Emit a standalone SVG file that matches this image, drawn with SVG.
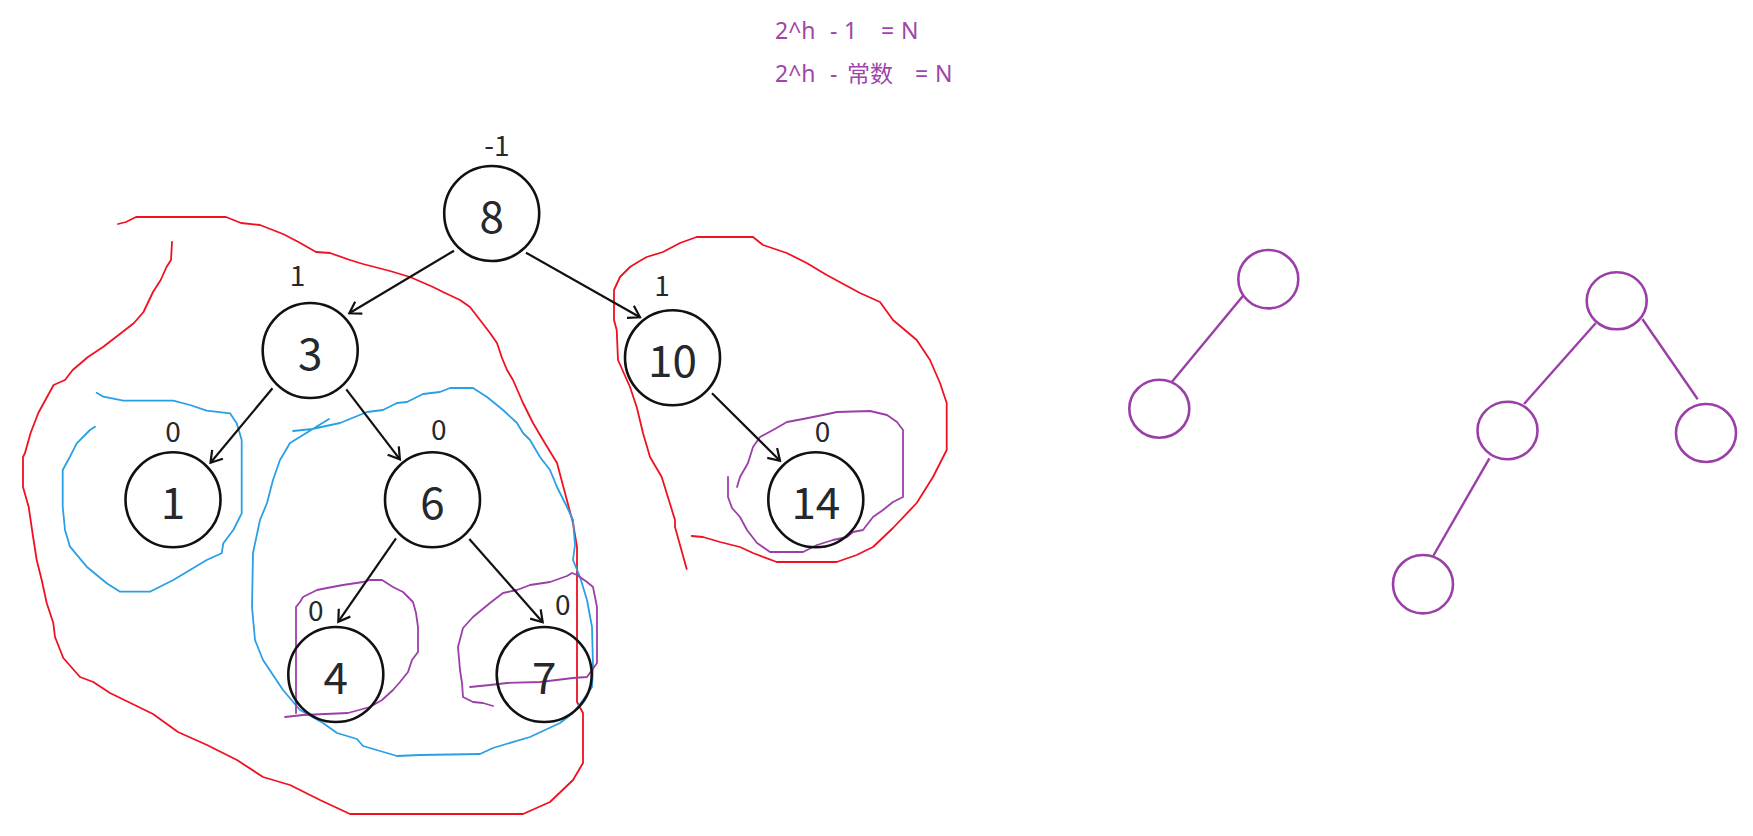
<svg xmlns="http://www.w3.org/2000/svg" width="1753" height="836" viewBox="0 0 1753 836">
<style>
.node circle{fill:none;stroke:#111;stroke-width:2.6}
.val{font-family:"Noto Sans CJK SC","Noto Sans",sans-serif;font-size:44px;fill:#25282c;text-anchor:middle}
.bf{font-family:"Noto Sans CJK SC","Noto Sans",sans-serif;font-size:28px;fill:#25282c;text-anchor:middle}
.edge{stroke:#111;stroke-width:2.2;fill:none}
.red{fill:none;stroke:#f01020;stroke-width:1.8;stroke-linejoin:round;stroke-linecap:round}
.blue{fill:none;stroke:#2a9fe6;stroke-width:1.8;stroke-linejoin:round;stroke-linecap:round}
.pur{fill:none;stroke:#9b3fa8;stroke-width:1.8;stroke-linejoin:round;stroke-linecap:round}
.pn{fill:none;stroke:#9b3fa8;stroke-width:2.6}
.pe{stroke:#9b3fa8;stroke-width:2.4}
.formula{font-family:"Noto Sans","Noto Sans CJK SC",sans-serif;font-size:23px;fill:#a045ab}
</style>
<defs>
<marker id="arr" markerUnits="userSpaceOnUse" viewBox="-14 -8 16 16" markerWidth="16" markerHeight="16" refX="0" refY="0" orient="auto">
<path d="M-11,-7 L0,0 L-11,7" fill="none" stroke="#111" stroke-width="2.2"/>
</marker>
</defs>
<rect width="1753" height="836" fill="#fff"/>

<g id="formula">
<text class="formula" y="39.3"><tspan x="775">2^h</tspan><tspan x="830">-</tspan><tspan x="844">1</tspan><tspan x="881">=</tspan><tspan x="901">N</tspan></text>
<text class="formula" y="81.7"><tspan x="775">2^h</tspan><tspan x="830">-</tspan><tspan x="847">常数</tspan><tspan x="915">=</tspan><tspan x="935">N</tspan></text>
</g>

<g id="annotations">
<path class="red" d="M172,242 L171,260 L166.5,267 L160.7,280 L153,292 L143.5,312 L134,323 L118.6,335 L103,347 L88,357 L72.7,370 L65,380 L53.6,385 L38.3,413 L30.6,433 L25,453 L23,457 L23,487 L28.7,507 L32.5,533 L36.7,560 L41.7,580 L46.7,603 L53.3,623 L55,637 L63.3,658 L80,677 L93.3,682 L110,693 L153,714 L178,732 L207,745 L237,760 L263,777 L290,785 L320,800 L350,814 L523,814 L550,802 L573,780 L583,763 L583,713 L577,702 L577,560 L577,547 L573,523 L565,493 L557,463 L543,440 L533,423 L523,403 L513,380 L507,370 L502,358 L497,343 L490,333 L480,320 L470,307 L460,300 L443,292 L433,287 L410,277 L390,271 L363,264 L350,260 L330,253 L316,252 L298.5,242 L283,234 L260,225 L241,223 L226,217 L136,217 L126,222 L118,224"/>
<path class="red" d="M686.7,569 L675,527 L675,520 L661.7,477 L650,457 L643,433 L636.7,407 L630,387 L618,360 L616.7,330 L614,320 L614,290 L620,277 L630,267 L638,262 L646.7,257 L663,252 L680,243 L696.7,237 L753,237 L763,245 L786.7,253 L806.7,263 L826.7,275 L860,293 L880,302 L893,320 L916.7,340 L930,360 L940,383 L946.7,403 L946.7,450 L933,477 L916.7,503 L893,528 L873,547 L856.7,555 L836.7,562 L776.7,562 L753,553 L740,547 L720,542 L703,537 L691.7,536"/>
<path class="blue" d="M96.7,392.7 L103.3,396.7 L123.3,400.7 L173.3,400.7 L190,405 L206.7,410.7 L230,413.3 L236.7,423.3 L241.7,440 L241.7,513.3 L233.3,530 L223.3,543.3 L221.7,553.3 L206.7,560 L190,570 L173.3,580 L150,591.7 L120,591.7 L106.7,583.3 L86.7,566.7 L70,546.7 L65,530 L62.7,506.7 L62.7,470 L70,456.7 L76.7,443.3 L90,430 L95,426.7"/>
<path class="blue" d="M293,431 L312,429 L340,423 L367,412 L383,410 L397,403 L407,402 L423,394 L440,392 L450,388 L473,388 L487,397 L503,410 L517,423 L523,433 L530,440 L540,457 L550,470 L557,487 L567,507 L573,520 L575,545 L573,560 L580,577 L587,600 L592,627 L593,667 L592,687 L583,700 L573,713 L560,723 L530,737 L503,745 L493,748 L480,754 L420,755 L397,756 L363,746 L357,739 L337,733 L323,723 L300,710 L283,690 L263,660 L255,640 L252,607 L253,553 L260,520 L267,503 L273,480 L280,460 L290,443 L303,435 L329,419"/>
<path class="pur" d="M285,717 L303,715 L348,713 L370,707 L382,700 L393,690 L400,682 L408,672 L412,660 L418,652 L418,627 L416,613 L413,602 L403,592 L393,587 L382,580 L370,580 L363,582 L343,585 L327,588 L317,590 L303,597 L300,602 L296,607 L296,713"/>
<path class="pur" d="M470,687 L490,685 L507,683 L540,682 L573,678 L587,677 L597,663 L597,607 L593,587 L587,582 L577,575 L572,573 L567,576 L550,582 L530,585 L517,590 L503,593 L490,603 L473,617 L463,628 L458,647 L460,670 L462,683 L463,697 L473,702 L483,703 L493,706"/>
<path class="pur" d="M737,487 L740,477 L748,463 L753,447 L760,437 L773,430 L787,422 L803,419 L823,415 L837,412 L870,411 L887,415 L897,422 L903,430 L903,497 L893,502 L883,510 L873,517 L863,530 L853,532 L847,537 L833,540 L817,545 L803,552 L770,552 L757,543 L747,530 L740,517 L732,508 L728,497 L728,477"/>
</g>

<g id="connectors">
<line class="edge" x1="454" y1="250.7" x2="349.3" y2="313.3" marker-end="url(#arr)"/>
<line class="edge" x1="526" y1="252.7" x2="640" y2="317.3" marker-end="url(#arr)"/>
<line class="edge" x1="272.5" y1="388.3" x2="210.5" y2="462.7" marker-end="url(#arr)"/>
<line class="edge" x1="346.3" y1="389.3" x2="399.9" y2="459.3" marker-end="url(#arr)"/>
<line class="edge" x1="396" y1="538.3" x2="338.3" y2="621.7" marker-end="url(#arr)"/>
<line class="edge" x1="469.3" y1="539" x2="542.7" y2="622.3" marker-end="url(#arr)"/>
<line class="edge" x1="712" y1="393.3" x2="780" y2="460.7" marker-end="url(#arr)"/>
<line class="pe" x1="1242.9" y1="296" x2="1171.6" y2="382.3"/>
<line class="pe" x1="1595.6" y1="323.3" x2="1524" y2="404"/>
<line class="pe" x1="1642.3" y1="319" x2="1697.7" y2="399.3"/>
<line class="pe" x1="1489.4" y1="458.3" x2="1433.2" y2="556"/>
</g>

<g id="node-8" class="node"><circle cx="491.7" cy="213.5" r="47.5"/><text class="val" x="491.7" y="232.5">8</text><text class="bf" x="497" y="156">-1</text></g>
<g id="node-3" class="node"><circle cx="310.2" cy="350.5" r="47.5"/><text class="val" x="310.2" y="369.5">3</text><text class="bf" x="297.5" y="286">1</text></g>
<g id="node-10" class="node"><circle cx="672.5" cy="357.8" r="47.5"/><text class="val" x="672.5" y="376.8">10</text><text class="bf" x="662" y="296">1</text></g>
<g id="node-1" class="node"><circle cx="173" cy="499.8" r="47.5"/><text class="val" x="173" y="518.8">1</text><text class="bf" x="173" y="441.7">0</text></g>
<g id="node-6" class="node"><circle cx="432.5" cy="499.8" r="47.5"/><text class="val" x="432.5" y="518.8">6</text><text class="bf" x="438.7" y="440">0</text></g>
<g id="node-14" class="node"><circle cx="815.8" cy="499.8" r="47.5"/><text class="val" x="815.8" y="518.8">14</text><text class="bf" x="822.5" y="442">0</text></g>
<g id="node-4" class="node"><circle cx="335.8" cy="674.5" r="47.5"/><text class="val" x="335.8" y="693.5">4</text><text class="bf" x="315.8" y="620.7">0</text></g>
<g id="node-7" class="node"><circle cx="544.2" cy="674.5" r="47.5"/><text class="val" x="544.2" y="693.5">7</text><text class="bf" x="562.7" y="615">0</text></g>

<g id="pnode-a"><ellipse class="pn" cx="1268.3" cy="279.2" rx="30" ry="29.2"/></g>
<g id="pnode-b"><ellipse class="pn" cx="1159.3" cy="408.8" rx="30" ry="29"/></g>
<g id="pnode-c"><ellipse class="pn" cx="1616.7" cy="300.8" rx="30" ry="28.5"/></g>
<g id="pnode-d"><ellipse class="pn" cx="1507.5" cy="430.5" rx="30" ry="28.8"/></g>
<g id="pnode-e"><ellipse class="pn" cx="1706" cy="433" rx="30" ry="29"/></g>
<g id="pnode-f"><ellipse class="pn" cx="1423" cy="584.2" rx="30" ry="29.2"/></g>
</svg>
